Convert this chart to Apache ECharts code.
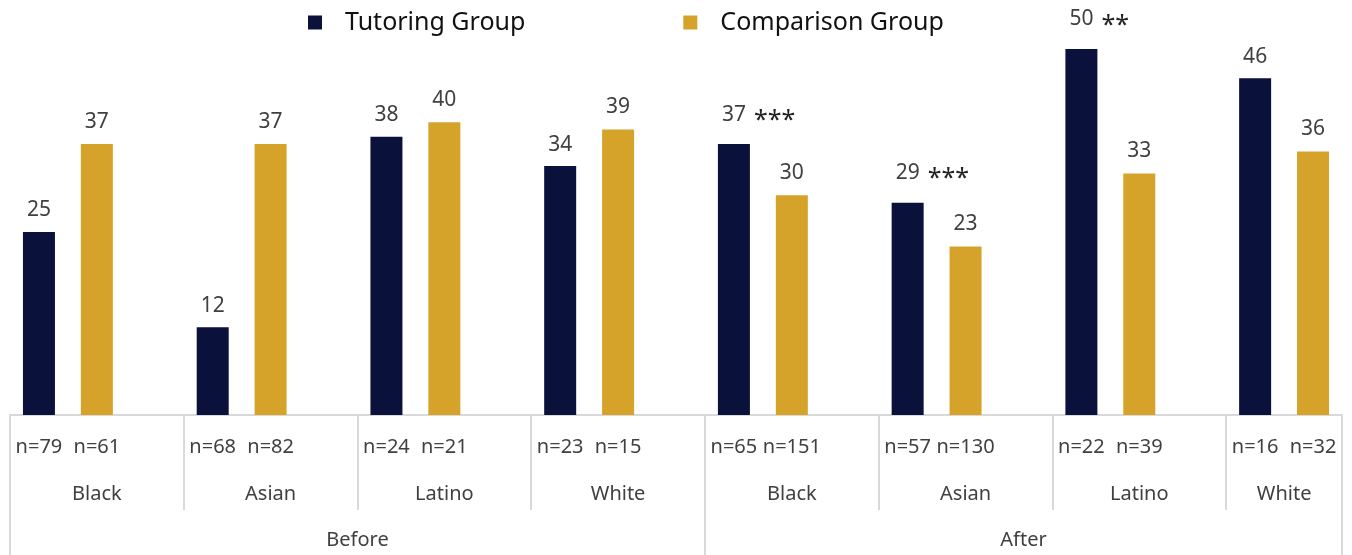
<!DOCTYPE html>
<html lang="en">
<head>
<meta charset="utf-8">
<title>Tutoring vs Comparison</title>
<script src="https://cdn.jsdelivr.net/npm/echarts@6/dist/echarts.min.js"></script>
<style>
  html, body { margin: 0; padding: 0; background: #fff; }
  #chart { width: 1352px; height: 555px; }
</style>
</head>
<body>
<div id="chart"></div>
<script>
// groups (ethnicity) and period
var groups = ['Black', 'Asian', 'Latino', 'White', 'Black', 'Asian', 'Latino', 'White'];
var periods = ['Before', 'After'];
var groupsPerPeriod = 4;
var tutoring = [25, 12, 38, 34, 37, 29, 50, 46];
var comparison = [37, 37, 40, 39, 30, 23, 33, 36];
var nTutoring = [79, 68, 24, 23, 65, 57, 22, 16];
var nComparison = [61, 82, 21, 15, 151, 130, 39, 32];
var stars = ['', '', '', '', '***', '***', '**', ''];

var NAVY = '#0a113b';
var GOLD = '#d5a32a';
var TXT = '#404040';
var LINE = '#d9d9d9';
var FONT = 'Noto Sans';

// leaf slots: tutoring, comparison, blank (no blank after the last group)
var leaf = [], tutorData = [], compData = [], starOf = [];
var groupLabel = [], groupShift = [], periodLabel = [], periodShift = [];
var groupStart = [];
for (var g = 0; g < groups.length; g++) {
  groupStart.push(leaf.length);
  leaf.push('n=' + nTutoring[g]); tutorData.push(tutoring[g]); compData.push(null); starOf.push(stars[g]);
  leaf.push('n=' + nComparison[g]); tutorData.push(null); compData.push(comparison[g]); starOf.push('');
  if (g < groups.length - 1) {
    leaf.push(''); tutorData.push(null); compData.push(null); starOf.push('');
  }
}
for (var i = 0; i < leaf.length; i++) { groupLabel.push(''); groupShift.push(false); periodLabel.push(''); periodShift.push(false); }
for (var g = 0; g < groups.length; g++) {
  var s0 = groupStart[g];
  var s1 = g < groups.length - 1 ? groupStart[g + 1] : leaf.length;
  var mid = (s0 + s1 - 1) / 2;
  groupLabel[Math.floor(mid)] = groups[g];
  groupShift[Math.floor(mid)] = mid % 1 !== 0;
}
var periodStart = [];
for (var p = 0; p < periods.length; p++) {
  var a = groupStart[p * groupsPerPeriod];
  var b = p < periods.length - 1 ? groupStart[(p + 1) * groupsPerPeriod] : leaf.length;
  periodStart.push(a);
  var m = (a + b - 1) / 2;
  periodLabel[Math.floor(m)] = periods[p];
  periodShift[Math.floor(m)] = m % 1 !== 0;
}

var chart = echarts.init(document.getElementById('chart'));

function labelFmt(labels, shifts) {
  return function (v, idx) {
    if (!labels[idx]) return '';
    return shifts[idx] ? '{r|' + labels[idx] + '}' : '{c|' + labels[idx] + '}';
  };
}

var option = {
  animation: false,
  textStyle: { fontFamily: FONT },
  legend: {
    top: 5,
    left: 303,
    icon: 'rect',
    itemWidth: 14,
    itemHeight: 14,
    itemGap: 158,
    textStyle: { fontFamily: FONT, fontSize: 25, color: '#111', padding: [0, 0, 0, 18] },
    data: ['Tutoring Group', 'Comparison Group']
  },
  grid: { left: 10, right: 10, top: 5, bottom: 140, containLabel: false },
  yAxis: { type: 'value', min: 0, max: 56, show: false },
  xAxis: [
    {
      type: 'category', position: 'bottom', data: leaf,
      axisLine: { show: true, lineStyle: { color: LINE, width: 2 } },
      axisTick: { show: false },
      axisLabel: { interval: 0, margin: 22, color: TXT, fontSize: 20, fontFamily: FONT }
    },
    {
      type: 'category', position: 'bottom', data: leaf,
      axisLine: { show: false },
      axisTick: { show: true, length: 95, lineStyle: { color: LINE, width: 2 },
        interval: function (idx) { return groupStart.indexOf(idx) >= 0; } },
      axisLabel: { interval: 0, margin: 69, color: TXT, fontSize: 20, fontFamily: FONT,
        formatter: labelFmt(groupLabel, groupShift),
        rich: { c: { fontSize: 20, fontFamily: FONT, color: TXT }, r: { fontSize: 20, fontFamily: FONT, color: TXT, padding: [0, 0, 0, 58] } } }
    },
    {
      type: 'category', position: 'bottom', data: leaf,
      axisLine: { show: false },
      axisTick: { show: true, length: 140, lineStyle: { color: LINE, width: 2 },
        interval: function (idx) { return periodStart.indexOf(idx) >= 0; } },
      axisLabel: { interval: 0, margin: 115, color: TXT, fontSize: 20, fontFamily: FONT,
        formatter: labelFmt(periodLabel, periodShift),
        rich: { c: { fontSize: 20, fontFamily: FONT, color: TXT }, r: { fontSize: 20, fontFamily: FONT, color: TXT, padding: [0, 0, 0, 58] } } }
    }
  ],
  series: [
    {
      name: 'Tutoring Group', type: 'bar', xAxisIndex: 0, data: tutorData,
      barWidth: 32, barGap: '-100%',
      itemStyle: { color: NAVY },
      label: {
        show: true, position: 'top', distance: 11,
        formatter: function (p) {
          var s = starOf[p.dataIndex];
          if (!s) return '{v|' + p.value + '}';
          return '{h|' + s + '}{v|' + p.value + '}{s|' + s + '}';
        },
        rich: {
          v: { fontSize: 21, fontFamily: FONT, color: TXT },
          s: { fontSize: 25, fontFamily: FONT, color: '#222', padding: [12, 0, 0, 8] },
          h: { fontSize: 25, fontFamily: FONT, color: 'rgba(0,0,0,0)', padding: [12, 8, 0, 0] }
        }
      }
    },
    {
      name: 'Comparison Group', type: 'bar', xAxisIndex: 0, data: compData,
      barWidth: 32, barGap: '-100%',
      itemStyle: { color: GOLD },
      label: {
        show: true, position: 'top', distance: 12,
        fontSize: 21, fontFamily: FONT, color: TXT
      }
    }
  ]
};
chart.setOption(option);
</script>
</body>
</html>
